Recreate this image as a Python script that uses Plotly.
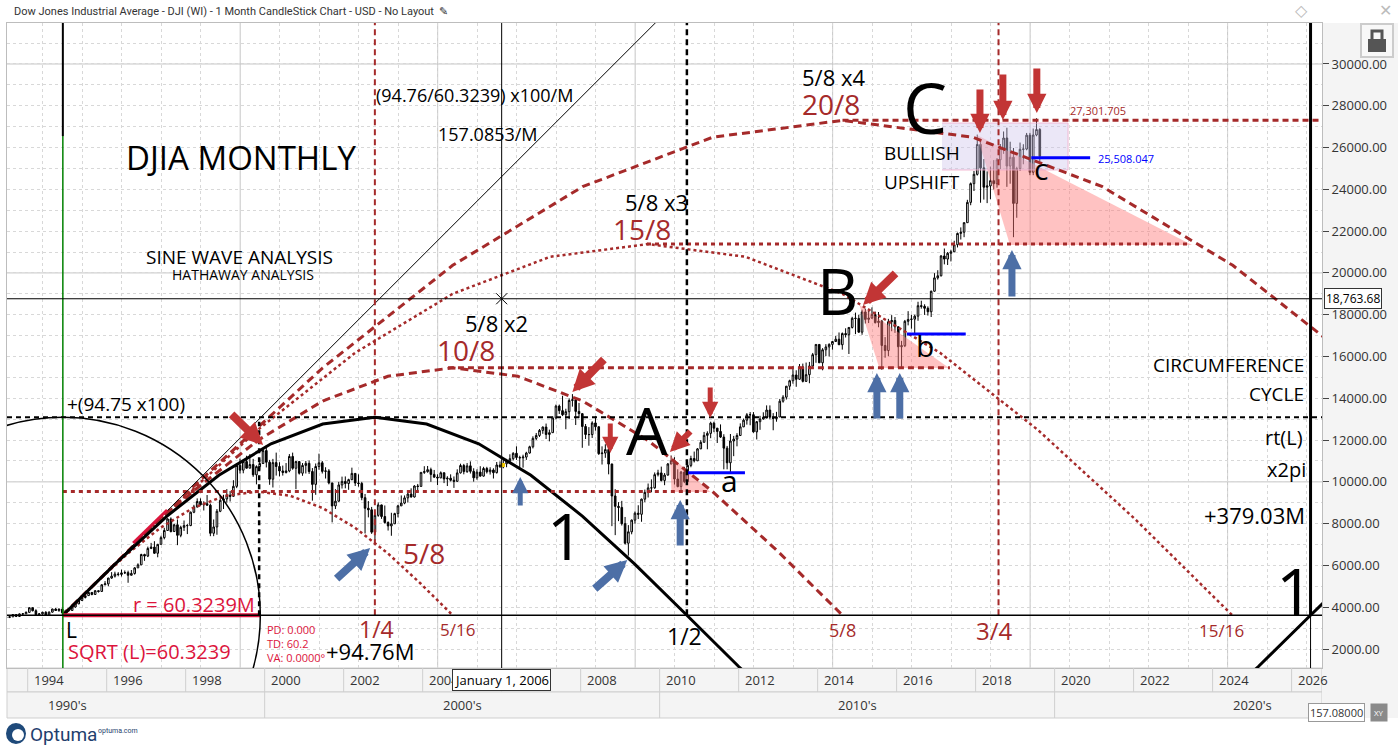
import plotly.graph_objects as go

# Monthly DJIA candles, Jan 1993 .. Aug 2019 (Aug 2019 = running month)
start_year = 1993
first_open = 3301
closes = [
    3310, 3371, 3435, 3428, 3527, 3516, 3539, 3651, 3555, 3681, 3684, 3754,  # 1993
    3978, 3832, 3636, 3682, 3758, 3625, 3765, 3913, 3843, 3908, 3739, 3834,  # 1994
    3844, 4011, 4158, 4321, 4465, 4556, 4708, 4611, 4789, 4755, 5074, 5117,  # 1995
    5395, 5486, 5587, 5569, 5643, 5655, 5529, 5616, 5882, 6029, 6522, 6448,  # 1996
    6813, 6878, 6583, 7009, 7331, 7673, 8223, 7622, 7945, 7442, 7823, 7908,  # 1997
    7907, 8546, 8800, 9063, 8900, 8952, 8883, 7539, 7843, 8592, 9117, 9181,  # 1998
    9359, 9307, 9786, 10789, 10560, 10971, 10655, 10829, 10337, 10730, 10878, 11497,  # 1999
    10941, 10128, 10922, 10734, 10522, 10448, 10522, 11215, 10651, 10971, 10414, 10787,  # 2000
    10887, 10495, 9879, 10735, 10912, 10502, 10523, 9950, 8848, 9075, 9852, 10022,  # 2001
    9920, 10106, 10404, 9946, 9925, 9243, 8737, 8664, 7592, 8397, 8896, 8342,  # 2002
    8054, 7891, 7992, 8480, 8850, 8985, 9234, 9416, 9275, 9801, 9782, 10454,  # 2003
    10488, 10584, 10358, 10226, 10188, 10435, 10140, 10174, 10080, 10027, 10428, 10783,  # 2004
    10490, 10766, 10504, 10193, 10467, 10275, 10641, 10482, 10569, 10440, 10806, 10718,  # 2005
    10865, 10993, 11109, 11367, 11168, 11150, 11186, 11381, 11679, 12081, 12222, 12463,  # 2006
    12622, 12269, 12354, 13063, 13628, 13409, 13212, 13358, 13896, 13930, 13372, 13265,  # 2007
    12650, 12266, 12263, 12820, 12638, 11350, 11378, 11544, 10851, 9325, 8829, 8776,  # 2008
    8001, 7063, 7609, 8168, 8500, 8447, 9172, 9496, 9712, 9713, 10345, 10428,  # 2009
    10067, 10325, 10857, 11009, 10137, 9774, 10466, 10015, 10788, 11118, 11006, 11578,  # 2010
    11892, 12226, 12320, 12811, 12570, 12414, 12143, 11614, 10913, 11955, 12046, 12218,  # 2011
    12633, 12952, 13212, 13214, 12393, 12880, 13009, 13091, 13437, 13096, 13026, 13104,  # 2012
    13861, 14054, 14579, 14840, 15116, 14910, 15500, 14810, 15130, 15546, 16086, 16577,  # 2013
    15699, 16322, 16458, 16581, 16717, 16827, 16563, 17098, 17043, 17391, 17828, 17823,  # 2014
    17165, 18133, 17776, 17841, 18011, 17620, 17690, 16528, 16285, 17664, 17720, 17425,  # 2015
    16466, 16517, 17685, 17774, 17787, 17930, 18432, 18401, 18308, 18142, 19124, 19763,  # 2016
    19864, 20812, 20663, 20941, 21009, 21350, 21891, 21948, 22405, 23377, 24272, 24719,  # 2017
    26149, 25029, 24103, 24163, 24416, 24271, 25415, 25965, 26458, 25116, 25538, 23327,  # 2018
    25000, 25916, 25929, 26593, 24815, 26600, 26864, 25580,  # 2019
]
highs = [
    3350, 3400, 3480, 3480, 3560, 3560, 3580, 3660, 3660, 3700, 3720, 3800,
    3990, 3980, 3900, 3720, 3780, 3810, 3800, 3930, 3960, 3940, 3920, 3880,
    3940, 4030, 4180, 4330, 4480, 4600, 4740, 4720, 4820, 4810, 5100, 5250,
    5410, 5680, 5700, 5680, 5800, 5760, 5750, 5780, 5920, 6100, 6560, 6560,
    6900, 7080, 7160, 7030, 7420, 7800, 8260, 8300, 8000, 8200, 7900, 8150,
    7980, 8580, 8900, 9210, 9210, 9070, 9370, 8960, 8200, 8700, 9380, 9380,
    9650, 9560, 10080, 10900, 11110, 11050, 11250, 11330, 11100, 10790, 11110, 11570,
    11750, 11050, 11100, 11400, 10940, 10780, 10900, 11330, 11400, 11000, 11000, 10900,
    11000, 11020, 10660, 10880, 11350, 11000, 10700, 10610, 9950, 9650, 10000, 10250,
    10260, 10150, 10680, 10420, 10360, 10000, 9420, 9080, 8800, 8540, 9020, 8910,
    8870, 8110, 8520, 8520, 8900, 9350, 9350, 9480, 9690, 9840, 9900, 10460,
    10750, 10760, 10680, 10570, 10360, 10500, 10400, 10270, 10360, 10260, 10600, 10870,
    10860, 10900, 10980, 10650, 10600, 10750, 10720, 10720, 10700, 10650, 10950, 10980,
    11050, 11100, 11320, 11420, 11700, 11250, 11300, 11440, 11730, 12180, 12340, 12530,
    12650, 12790, 12500, 13150, 13700, 13700, 14120, 13500, 14000, 14200, 13950, 13780,
    13280, 12770, 12620, 12900, 13140, 12650, 11700, 11800, 11790, 10880, 9650, 9030,
    9090, 8320, 7930, 8200, 8580, 8880, 9200, 9630, 9920, 10120, 10450, 10580,
    10730, 10420, 10900, 11260, 11180, 10600, 10520, 10720, 10950, 11250, 11450, 11620,
    12000, 12390, 12420, 12880, 12880, 12580, 12750, 12280, 11720, 12290, 12200, 12330,
    12800, 13030, 13290, 13340, 13340, 12900, 13160, 13330, 13660, 13660, 13290, 13350,
    13970, 14150, 14590, 14890, 15540, 15340, 15640, 15660, 15710, 15740, 16170, 16590,
    16590, 16400, 16590, 16630, 16740, 16980, 17150, 17150, 17350, 17400, 17900, 18100,
    18000, 18240, 18290, 18180, 18350, 18150, 18130, 17750, 16930, 17800, 17980, 17890,
    17430, 16750, 17750, 18170, 18000, 18000, 18620, 18670, 18500, 18400, 19150, 19990,
    20130, 20850, 21170, 21000, 21110, 21540, 21930, 22180, 22420, 23500, 24330, 24880,
    26620, 26310, 25450, 24860, 25090, 25400, 25500, 26170, 26770, 26950, 26280, 25980,
    25080, 26240, 26160, 26700, 26700, 26910, 27400, 26930,
]
lows = [
    3242, 3300, 3370, 3370, 3420, 3480, 3480, 3530, 3530, 3550, 3620, 3680,
    3740, 3800, 3590, 3580, 3640, 3610, 3620, 3740, 3820, 3780, 3670, 3680,
    3810, 3840, 3980, 4150, 4300, 4420, 4550, 4570, 4600, 4700, 4750, 5050,
    5000, 5360, 5420, 5480, 5470, 5590, 5170, 5520, 5560, 5880, 6020, 6220,
    6400, 6780, 6550, 6390, 7000, 7250, 7650, 7580, 7600, 6970, 7350, 7650,
    7500, 7880, 8500, 8770, 8870, 8630, 8860, 7400, 7400, 7470, 8550, 8700,
    9000, 9060, 9300, 9700, 10400, 10410, 10640, 10650, 10240, 9880, 10580, 10860,
    10690, 9860, 9730, 10300, 10260, 10300, 10400, 10460, 10580, 9650, 10350, 10290,
    10400, 10380, 9100, 9380, 10580, 10400, 10160, 9880, 8060, 8700, 9050, 9680,
    9690, 9620, 10080, 9800, 9770, 9120, 7530, 8300, 7510, 7200, 8330, 8230,
    8000, 7670, 7420, 7990, 8300, 8860, 8930, 9010, 9250, 9250, 9500, 9780,
    10380, 10440, 10000, 10200, 9850, 10180, 9940, 9800, 10020, 9710, 10000, 10400,
    10360, 10430, 10400, 10010, 10100, 10250, 10250, 10400, 10350, 10160, 10400, 10680,
    10650, 10700, 10900, 11030, 11050, 10700, 10680, 11050, 11350, 11600, 12000, 12150,
    12300, 12050, 11940, 12350, 13000, 13250, 13150, 12520, 13000, 13600, 12720, 13050,
    11630, 12050, 11730, 12100, 12450, 11290, 10830, 11150, 10360, 7880, 7450, 8120,
    7910, 7000, 6470, 7490, 8000, 8220, 8090, 9030, 9250, 9500, 9670, 10260,
    10020, 9840, 10300, 10840, 9870, 9740, 9610, 9940, 9990, 10700, 10930, 11000,
    11570, 11890, 11560, 12090, 12380, 11860, 12100, 10600, 10600, 10400, 11230, 11700,
    12200, 12620, 12740, 12710, 12350, 12030, 12490, 12980, 13030, 13000, 12470, 12880,
    13100, 13790, 13940, 14400, 14700, 14550, 14880, 14760, 14780, 14720, 15500, 15700,
    15690, 15340, 16020, 16000, 16330, 16700, 16560, 16330, 16910, 16120, 17340, 17070,
    17140, 17040, 17580, 17600, 17800, 17580, 17400, 15370, 15940, 16010, 17210, 17130,
    15450, 15500, 16450, 17490, 17330, 17060, 17710, 18290, 17990, 17960, 17890, 19100,
    19680, 19830, 20410, 20380, 20550, 21020, 21220, 21600, 21710, 22400, 23240, 23920,
    24660, 23360, 23510, 23340, 23530, 24000, 24080, 24970, 25700, 24120, 24270, 21710,
    22640, 24880, 25200, 25870, 24680, 24680, 26540, 25340,
]

# Hathaway sine-wave construction (time in decimal years, price in points)
L_year = 1994.89
L_price = 3614
r_years = 5.0          # 60.3239 months
amp = 9475             # 94.75 x100
frac_years = [2002.79, 2010.69, 2018.58, 2026.48]   # 1/4, 1/2, 3/4, 1
cross_year = 2006.0
cross_price = 18763.68
top_line_price = 27301.705
c_line_price = 25508.047

# basic sine (8/8) and the 5/8, 10/8, 15/8, 20/8 arcs, as polylines
wave_x = [1994.89, 1996.21, 1997.52, 1998.84, 2000.16, 2001.47, 2002.79, 2004.10, 2005.42,
          2006.74, 2008.05, 2009.37, 2010.69, 2012.00, 2013.32, 2014.63, 2015.95, 2017.27,
          2018.58, 2019.90, 2021.21, 2022.53, 2023.85, 2025.16, 2026.48, 2027.80]
wave_y = [3614, 6066, 8352, 10314, 11820, 12766, 13089, 12766, 11820, 10314, 8352, 6066,
          3614, 1162, -1124, -3086, -4592, -5538, -5861, -5538, -4592, -3086, -1124, 1162,
          3614, 6066]
c5_x = [1994.89, 1995.71, 1996.54, 1997.36, 1998.18, 1999.00, 1999.83, 2000.65, 2001.47,
        2002.29, 2003.12, 2003.94, 2004.76]
c5_y = [3614, 5147, 6575, 7801, 8743, 9334, 9536, 9334, 8743, 7801, 6575, 5147, 3614]
c10_x = [1994.89, 1996.54, 1998.18, 1999.83, 2001.47, 2003.12, 2004.76, 2006.41, 2008.05,
         2009.70, 2011.34, 2012.99, 2014.63]
c10_y = [3614, 6679, 9536, 11989, 13871, 15054, 15458, 15054, 13871, 11989, 9536, 6679, 3614]
c15_x = [1994.89, 1997.36, 1999.83, 2002.29, 2004.76, 2007.23, 2009.70, 2012.17, 2014.63,
         2017.10, 2019.57, 2022.04, 2024.50]
c15_y = [3614, 8212, 12497, 16176, 19000, 20774, 21380, 20774, 19000, 16176, 12497, 8212, 3614]
c20_x = [1994.89, 1998.18, 2001.47, 2004.76, 2008.05, 2011.34, 2014.63, 2017.93, 2021.21,
         2024.51, 2027.80]
c20_y = [3614, 9745, 15458, 20364, 24128, 26494, 27302, 26494, 24128, 20364, 15458]

# level lines at the arc peaks: (price, from, to)
level_prices = [9536, 15458, 21380, top_line_price]
level_from = [1994.89, 2004.64, 2009.68, 2014.63]
level_to = [2011.28, 2017.35, 2023.43, 2026.77]

# pink triangles and the purple box
triA_x, triA_y = [2010.26, 2010.30, 2011.28], [11285, 9514, 9514]
triB_x, triB_y = [2015.06, 2015.56, 2017.33], [18465, 15450, 15450]
triC_x, triC_y = [2018.03, 2018.87, 2023.48], [26601, 21336, 21336]
box_x, box_y = [2017.15, 2020.34], [24926, 27176]

# blue a / b / c lines
blue_x = [[2010.69, 2012.16], [2016.26, 2017.75], [2019.41, 2020.90]]
blue_y = [10438, 17076, c_line_price]

# arrow tips
red_tip_x = [1999.96, 2007.79, 2008.75, 2010.26, 2011.28, 2015.15, 2018.11, 2018.69, 2019.55]
red_tip_y = [11764, 14301, 11381, 11429, 13056, 18465, 26697, 27319, 27654]
blue_tip_x = [2006.47, 2010.52, 2015.50, 2016.08, 2018.92, 2002.67, 2009.18]
blue_tip_y = [10232, 9132, 15210, 15210, 21097, 6834, 6260]

years_shown = list(range(1994, 2027, 2))
decades = ["1990's", "2000's", "2010's", "2020's"]
decade_mid = [1995, 2005, 2015, 2025]

DARKRED = "#a52a2a"
CRIMSON = "#dc143c"
FONT = "Open Sans"
X_RANGE = [1993.476, 2026.77]
Y_RANGE = [1091, 31962]


def paper_x(p):
    return (p - 7) / 1315


def paper_y(p):
    return (668 - p) / 645


def line(x, y, color, width, dash="solid"):
    return go.Scatter(x=x, y=y, mode="lines", hoverinfo="skip",
                      line=dict(color=color, width=width, dash=dash))


fig = go.Figure()

# shaded areas
for tx, ty in [(triA_x, triA_y), (triB_x, triB_y), (triC_x, triC_y)]:
    fig.add_trace(go.Scatter(x=tx, y=ty, fill="toself", mode="lines", hoverinfo="skip",
                             line=dict(width=0), fillcolor="rgba(255,120,120,0.45)"))
fig.add_trace(go.Scatter(x=[box_x[0], box_x[1], box_x[1], box_x[0]],
                         y=[box_y[0], box_y[0], box_y[1], box_y[1]],
                         fill="toself", mode="lines", hoverinfo="skip",
                         line=dict(width=1, color="rgba(240,170,200,0.8)"),
                         fillcolor="rgba(205,195,235,0.4)"))

# candles
n = len(closes)
xs = [start_year + i / 12 + 1 / 24 for i in range(n)]
opens = [first_open] + closes[:-1]
fig.add_trace(go.Candlestick(
    x=xs, open=opens, high=highs, low=lows, close=closes, whiskerwidth=0,
    increasing=dict(line=dict(color="black", width=1), fillcolor="white"),
    decreasing=dict(line=dict(color="black", width=1), fillcolor="black"),
    hoverinfo="skip"))

# arcs
fig.add_trace(line(c5_x, c5_y, DARKRED, 2.5, "3px,3px"))
fig.add_trace(line(c15_x, c15_y, DARKRED, 2.5, "3px,3px"))
fig.add_trace(line(c10_x, c10_y, DARKRED, 3, "8px,5px"))
fig.add_trace(line(c20_x, c20_y, DARKRED, 3, "8px,5px"))
fig.add_trace(line(wave_x, wave_y, "black", 3))

# levels
for i, p in enumerate(level_prices):
    dash = "6px,4px" if i in (1, 3) else "4px,4px"
    fig.add_trace(line([level_from[i], level_to[i]], [p, p], DARKRED, 3, dash))

# 45 degree tangent through L and the red stub on it
fig.add_trace(line([L_year, 2009.91], [L_price, 32000], "black", 1))
fig.add_trace(line([1996.67, 1997.53], [7073, 8653], CRIMSON, 3))

# radius line
fig.add_trace(line([L_year, L_year + r_years], [L_price, L_price], CRIMSON, 4))

# blue a/b/c lines
for bx, by in zip(blue_x, blue_y):
    fig.add_trace(line(bx, [by, by], "#0000ff", 3))

# crosshair marker and small marker
fig.add_trace(go.Scatter(x=[cross_year], y=[cross_price], mode="markers", hoverinfo="skip",
                         marker=dict(symbol="x-thin", size=11, line=dict(width=1, color="black"))))
fig.add_trace(go.Scatter(x=[2006.03], y=[10806], mode="markers", hoverinfo="skip",
                         marker=dict(symbol="square", size=4, color="#ffd400")))

shapes = []
# solid grid every five steps
for gx in [1999.38, 2004.38, 2009.38, 2014.38, 2019.38, 2024.38]:
    shapes.append(dict(type="line", xref="x", yref="paper", x0=gx, x1=gx, y0=0, y1=1,
                       line=dict(color="#c6c6c6", width=1), layer="below"))
for gy in [10000, 20000, 30000]:
    shapes.append(dict(type="line", xref="paper", yref="y", x0=0, x1=1, y0=gy, y1=gy,
                       line=dict(color="#c6c6c6", width=1), layer="below"))

# circle of radius r around L
shapes.append(dict(type="circle", xref="x", yref="y",
                   x0=L_year - r_years, x1=L_year + r_years,
                   y0=L_price - amp, y1=L_price + amp,
                   line=dict(color="black", width=1.5)))
# verticals
shapes.append(dict(type="line", xref="x", yref="y", x0=L_year, x1=L_year, y0=0, y1=26550,
                   line=dict(color="green", width=1.5)))
shapes.append(dict(type="line", xref="x", yref="y", x0=L_year, x1=L_year, y0=26550, y1=33000,
                   line=dict(color="black", width=2)))
shapes.append(dict(type="line", xref="x", yref="paper", x0=cross_year, x1=cross_year, y0=0, y1=1,
                   line=dict(color="black", width=1)))
for fy, col, w in zip(frac_years[:3], [DARKRED, "black", DARKRED], [2, 2.5, 2]):
    shapes.append(dict(type="line", xref="x", yref="y", x0=fy, x1=fy, y0=L_price, y1=33000,
                       line=dict(color=col, width=w, dash="6px,4px")))
shapes.append(dict(type="line", xref="x", yref="y", x0=frac_years[3], x1=frac_years[3],
                   y0=L_price, y1=33000, line=dict(color="black", width=3)))
shapes.append(dict(type="line", xref="x", yref="y", x0=frac_years[3], x1=frac_years[3],
                   y0=0, y1=L_price, line=dict(color="black", width=1)))
shapes.append(dict(type="line", xref="x", yref="y", x0=1999.86, x1=1999.86, y0=L_price, y1=12880,
                   line=dict(color="black", width=2.5, dash="5px,4px")))
# horizontals
shapes.append(dict(type="line", xref="paper", yref="y", x0=0, x1=1, y0=L_price, y1=L_price,
                   line=dict(color="black", width=1.5)))
shapes.append(dict(type="line", xref="paper", yref="y", x0=0, x1=1,
                   y0=L_price + amp, y1=L_price + amp,
                   line=dict(color="black", width=2, dash="5px,4px")))
shapes.append(dict(type="line", xref="paper", yref="y", x0=0, x1=1, y0=cross_price, y1=cross_price,
                   line=dict(color="black", width=1)))

# time axis band, price panel
band_line = dict(color="#cfcfcf", width=1)
shapes.append(dict(type="rect", xref="paper", yref="paper", x0=0, x1=1, y0=paper_y(692), y1=0,
                   fillcolor="#f4f4f4", line=band_line, layer="below"))
shapes.append(dict(type="rect", xref="paper", yref="paper", x0=0, x1=1, y0=paper_y(718),
                   y1=paper_y(692), fillcolor="#f4f4f4", line=band_line, layer="below"))
shapes.append(dict(type="rect", xref="paper", yref="paper", x0=1, x1=paper_x(1398),
                   y0=paper_y(718), y1=1, fillcolor="#f4f4f4", line=dict(width=0), layer="below"))
for yv in years_shown:
    shapes.append(dict(type="line", xref="x", yref="paper", x0=yv, x1=yv,
                       y0=paper_y(692), y1=0, line=band_line))
for dv in [2000, 2010, 2020]:
    shapes.append(dict(type="line", xref="x", yref="paper", x0=dv, x1=dv,
                       y0=paper_y(718), y1=paper_y(692), line=band_line))
# lock button top right
shapes.append(dict(type="rect", xref="paper", yref="paper", x0=paper_x(1361), x1=paper_x(1393),
                   y0=paper_y(57), y1=paper_y(24), fillcolor="#f8f8f8", line=dict(color="#cccccc")))
shapes.append(dict(type="rect", xref="paper", yref="paper", x0=paper_x(1372), x1=paper_x(1382),
                   y0=paper_y(42), y1=paper_y(31), line=dict(color="#555555", width=3)))
shapes.append(dict(type="rect", xref="paper", yref="paper", x0=paper_x(1368), x1=paper_x(1386),
                   y0=paper_y(52), y1=paper_y(39), fillcolor="#555555", line=dict(width=0)))
# optuma logo mark
shapes.append(dict(type="circle", xref="paper", yref="paper", x0=paper_x(6), x1=paper_x(26),
                   y0=paper_y(744), y1=paper_y(723), fillcolor="#1f4a7a", line=dict(width=0)))
shapes.append(dict(type="circle", xref="paper", yref="paper", x0=paper_x(12), x1=paper_x(24),
                   y0=paper_y(741), y1=paper_y(729), fillcolor="white", line=dict(width=0)))

ann = []


def txt(t, x, y, size, color="black", xanchor="center", family=FONT):
    ann.append(dict(text=t, x=x, y=y, xref="x", yref="y", showarrow=False, xanchor=xanchor,
                    yanchor="middle", font=dict(size=size, color=color, family=family)))


txt("DJIA MONTHLY", 1999.40, 25548, 33)
txt("SINE WAVE ANALYSIS", 1999.37, 20760, 19)
txt("HATHAWAY ANALYSIS", 1999.45, 19920, 14)
txt("(94.76/60.3239) x100/M", 2005.30, 28516, 18)
txt("157.0853/M", 2005.65, 26649, 18)
txt("5/8 x4", 2014.41, 29378, 22)
txt("5/8 x3", 2009.93, 23395, 22)
txt("5/8 x2", 2005.86, 17603, 22)
txt("+(94.75 x100)", 1994.95, 13726, 19, xanchor="left")
txt("L", 1995.12, 2909, 21)
txt("+94.76M", 2002.67, 1900, 22)
txt("1/2", 2010.64, 2622, 23)
txt("1", 2026.09, 4824, 66)
txt("1", 2007.61, 7456, 64)
txt("A", 2009.69, 12554, 66)
txt("B", 2014.51, 19183, 64)
txt("C", 2016.71, 27942, 70)
txt("a", 2011.76, 10089, 30)
txt("b", 2016.72, 16550, 30)
txt("c", 2019.65, 25022, 30)
txt("BULLISH", 2015.63, 25740, 19, xanchor="left")
txt("UPSHIFT", 2015.63, 24352, 19, xanchor="left")
txt("CIRCUMFERENCE", 2026.37, 15593, 19, xanchor="right")
txt("CYCLE", 2026.37, 14205, 19, xanchor="right")
txt("rt(L)", 2026.34, 12147, 20, xanchor="right")
txt("x2pi", 2026.41, 10568, 20, xanchor="right")
txt("+379.03M", 2026.39, 8414, 22, xanchor="right")
txt("20/8", 2014.34, 28085, 28, DARKRED)
txt("15/8", 2009.55, 22102, 28, DARKRED)
txt("10/8", 2005.10, 16311, 28, DARKRED)
txt("5/8", 2004.03, 6595, 28, DARKRED)
txt("1/4", 2002.82, 2960, 23, DARKRED)
txt("5/16", 2004.88, 2957, 17, DARKRED)
txt("5/8", 2014.63, 2909, 18, DARKRED)
txt("3/4", 2018.48, 2909, 24, DARKRED)
txt("15/16", 2024.23, 2909, 17, DARKRED)
txt("27,301.705", 2020.34, 27798, 11, DARKRED, xanchor="left")
txt("r = 60.3239M", 1999.80, 4154, 20, CRIMSON, xanchor="right")
txt("SQRT (L)=60.3239", 1994.97, 1904, 20, CRIMSON, xanchor="left")
txt("PD: 0.000", 2000.01, 2957, 11, CRIMSON, xanchor="left")
txt("TD: 60.2", 2000.01, 2287, 11, CRIMSON, xanchor="left")
txt("VA: 0.0000°", 2000.01, 1617, 11, CRIMSON, xanchor="left")
txt("25,508.047", 2021.05, 25500, 11, "#0000ff", xanchor="left")

# arrows: tail offsets in pixels
red_tail = [(-33, -32), (33, -34), (0, -31), (22, -22), (0, -32), (34, -33), (0, -45), (0, -47), (0, -46)]
red_w = [8, 8, 5, 6, 5, 8, 7, 7, 7]
for x, y, (ax, ay), w in zip(red_tip_x, red_tip_y, red_tail, red_w):
    ann.append(dict(x=x, y=y, xref="x", yref="y", ax=ax, ay=ay, text="", showarrow=True,
                    arrowhead=2, arrowsize=0.55 if w >= 7 else 0.65, arrowwidth=w,
                    arrowcolor="#c23535"))
blue_tail = [(0, 30), (0, 47), (0, 47), (0, 47), (0, 48), (-35, 32), (-34, 30)]
blue_w = [5, 7, 7, 7, 7, 8, 8]
for x, y, (ax, ay), w in zip(blue_tip_x, blue_tip_y, blue_tail, blue_w):
    ann.append(dict(x=x, y=y, xref="x", yref="y", ax=ax, ay=ay, text="", showarrow=True,
                    arrowhead=2, arrowsize=0.55 if w >= 7 else 0.65, arrowwidth=w,
                    arrowcolor="#4d6fa6"))

# time band labels
for yv in years_shown:
    ann.append(dict(text=str(yv), x=yv + 0.12, y=paper_y(680), xref="x", yref="paper",
                    showarrow=False, xanchor="left", yanchor="middle",
                    font=dict(size=13, color="#333333", family=FONT)))
for d, m in zip(decades, decade_mid):
    ann.append(dict(text=d, x=m, y=paper_y(705), xref="x", yref="paper", showarrow=False,
                    xanchor="center", yanchor="middle",
                    font=dict(size=13, color="#333333", family=FONT)))
ann.append(dict(text="January 1, 2006", x=cross_year, y=paper_y(680), xref="x", yref="paper",
                showarrow=False, xanchor="center", yanchor="middle", bgcolor="white",
                bordercolor="#333333", borderwidth=1, borderpad=1,
                font=dict(size=13, color="black", family=FONT)))
ann.append(dict(text="18,763.68", x=1, y=cross_price, xref="paper", yref="y", showarrow=False,
                xanchor="left", yanchor="middle", xshift=2, bgcolor="white",
                bordercolor="#333333", borderwidth=1, borderpad=1,
                font=dict(size=12, color="black", family=FONT)))
ann.append(dict(text="157.08000", x=paper_x(1308), y=paper_y(712), xref="paper", yref="paper",
                showarrow=False, xanchor="left", yanchor="middle", bgcolor="white",
                bordercolor="#999999", borderwidth=1, borderpad=1,
                font=dict(size=11, color="#333333", family=FONT)))
ann.append(dict(text="XY", x=paper_x(1370), y=paper_y(712), xref="paper", yref="paper",
                showarrow=False, xanchor="left", yanchor="middle", bgcolor="#8a8a8a",
                borderpad=3, font=dict(size=8, color="white", family=FONT)))
# header and footer
ann.append(dict(text="Dow Jones Industrial Average - DJI (WI) - 1 Month CandleStick Chart - USD - No Layout  ✎",
                x=paper_x(12), y=paper_y(11), xref="paper", yref="paper", showarrow=False,
                xanchor="left", yanchor="middle", font=dict(size=11, color="#333333", family="Roboto")))
for icon, px in [("◇", 1301), ("✕", 1385)]:
    ann.append(dict(text=icon, x=paper_x(px), y=paper_y(10), xref="paper", yref="paper",
                    showarrow=False, xanchor="center", yanchor="middle",
                    font=dict(size=16, color="#bbbbbb", family="DejaVu Sans")))
ann.append(dict(text="Optuma", x=paper_x(28), y=paper_y(734), xref="paper", yref="paper",
                showarrow=False, xanchor="left", yanchor="middle",
                font=dict(size=19, color="#1f3f6e", family="Roboto")))
ann.append(dict(text="optuma.com", x=paper_x(96), y=paper_y(731), xref="paper", yref="paper",
                showarrow=False, xanchor="left", yanchor="middle",
                font=dict(size=7, color="#1f3f6e", family="Roboto")))

fig.update_layout(
    width=1398, height=747,
    margin=dict(l=7, r=76, t=23, b=79),
    paper_bgcolor="white", plot_bgcolor="white",
    showlegend=False,
    font=dict(family=FONT, color="black"),
    shapes=shapes, annotations=ann,
    xaxis=dict(range=X_RANGE, tick0=1994.38, dtick=1, showgrid=True, gridcolor="#d8d8d8",
               griddash="dot", showticklabels=False, ticks="", zeroline=False,
               showline=True, mirror=True, linecolor="#bdbdbd",
               rangeslider=dict(visible=False)),
    yaxis=dict(range=Y_RANGE, side="right", tick0=0, dtick=2000, tickformat=".2f",
               showgrid=True, gridcolor="#d8d8d8", griddash="dot",
               minor=dict(dtick=1000, tick0=0, showgrid=True, gridcolor="#d8d8d8", griddash="dot"),
               ticks="outside", ticklen=6, tickcolor="#444444",
               tickfont=dict(size=13, color="#333333", family=FONT),
               showline=True, mirror=True, linecolor="#bdbdbd", zeroline=False),
)

# the page's default body margin would push the chart 8px down and right
fig.write_html("out.html", config={"displayModeBar": False},
               post_script="document.body.style.margin='0px';")
